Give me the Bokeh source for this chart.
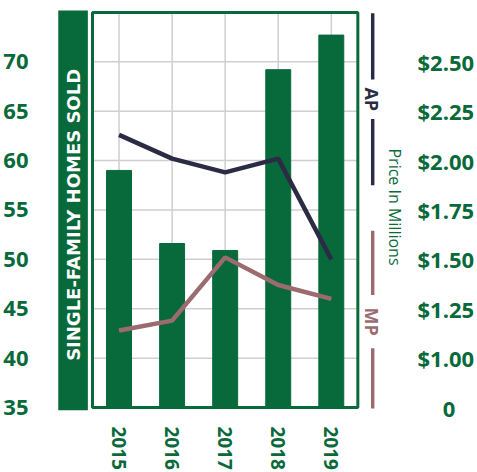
from bokeh.plotting import figure
from bokeh.models import (Range1d, LinearAxis, BoxAnnotation, Label,
                          FixedTicker, NumeralTickFormatter)
from bokeh.embed import file_html
from bokeh.resources import INLINE

# ---- data ----
years = ["2015", "2016", "2017", "2018", "2019"]
homes_sold = [59.0, 51.6, 50.9, 69.2, 72.7]
avg_price = [2.13, 2.01, 1.94, 2.01, 1.50]      # AP, $ millions
median_price = [1.14, 1.19, 1.51, 1.37, 1.30]   # MP, $ millions
left_ticks = [35, 40, 45, 50, 55, 60, 65, 70]
right_ticks = [0.75, 1.0, 1.25, 1.5, 1.75, 2.0, 2.25, 2.5]

GREEN = "#08693a"
NAVY = "#2b2b45"
MAUVE = "#9b6b70"
GRID = "#cfcfcf"
FONT = "Open Sans"

# ---- layout geometry (canvas pixels) ----
W, H = 477, 472
FRAME_L, FRAME_R, FRAME_T, FRAME_B = 40, 408, 2, 415
PX_PER_CAT = 53.8      # horizontal pixels per category
CAT0_PX = 118.6        # centre of first category
BASE_PX = 412          # pixel of value 35
PX_PER_UNIT = 10.0     # pixels per home sold

def X(px):
    return (px - CAT0_PX) / PX_PER_CAT

def Y(py):
    return 35 + (BASE_PX - py) / PX_PER_UNIT

def P(yv):  # homes-axis value -> price-axis value
    return 0.75 + (yv - 35) * 0.05

idx = list(range(len(years)))
x_start, x_end = X(FRAME_L), X(FRAME_R)
y_start, y_end = Y(FRAME_B), Y(FRAME_T)

p = figure(width=W, height=H, x_range=Range1d(x_start, x_end),
           y_range=Range1d(y_start, y_end),
           output_backend="svg", toolbar_location=None,
           min_border_left=FRAME_L, min_border_right=W - FRAME_R,
           min_border_top=FRAME_T, min_border_bottom=H - FRAME_B)
p.extra_y_ranges = {"price": Range1d(P(y_start), P(y_end))}
p.outline_line_color = None
p.xgrid.visible = False
p.ygrid.visible = False
p.background_fill_color = "white"
p.border_fill_color = "white"

# grid lines (inside the green frame)
lo, hi = idx[0] - 0.5, idx[-1] + 0.5
gy = [t for t in left_ticks if t > left_ticks[0]]
p.segment(x0=[lo] * len(gy), x1=[hi] * len(gy), y0=gy, y1=gy,
          line_color=GRID, line_width=1.5)
p.segment(x0=idx, x1=idx, y0=[left_ticks[0]] * len(idx), y1=[75] * len(idx),
          line_color=GRID, line_width=1.5)

# green frame
p.quad(left=[lo], right=[hi], bottom=[left_ticks[0]], top=[75],
       fill_color=None, line_color=GREEN, line_width=3)

# bars
p.vbar(x=idx, top=homes_sold, bottom=left_ticks[0], width=0.47, color=GREEN)

# price lines
p.line(idx, avg_price, y_range_name="price", line_color=NAVY, line_width=4.5)
p.line(idx, median_price, y_range_name="price", line_color=MAUVE, line_width=4.5)

# left axis
ya = p.yaxis[0]
ya.ticker = FixedTicker(ticks=left_ticks)
ya.axis_line_color = None
ya.major_tick_line_color = None
ya.minor_tick_line_color = None
ya.major_label_standoff = 7
ya.major_label_text_color = GREEN
ya.major_label_text_font = FONT
ya.major_label_text_font_style = "bold"
ya.major_label_text_font_size = "22px"

# right axis
ra = LinearAxis(y_range_name="price", ticker=FixedTicker(ticks=right_ticks),
                formatter=NumeralTickFormatter(format="$0.00"),
                major_label_overrides={0.75: "\u2007\u20070"})
ra.axis_line_color = None
ra.major_tick_line_color = None
ra.minor_tick_line_color = None
ra.major_label_standoff = 7
ra.major_label_text_color = GREEN
ra.major_label_text_font = FONT
ra.major_label_text_font_style = "bold"
ra.major_label_text_font_size = "22px"
p.add_layout(ra, "right")

# bottom axis (years)
xa = p.xaxis[0]
xa.ticker = FixedTicker(ticks=idx)
xa.major_label_overrides = {i: y for i, y in zip(idx, years)}
xa.axis_line_color = None
xa.major_tick_line_color = None
xa.minor_tick_line_color = None
xa.major_label_orientation = "vertical"
xa.major_label_standoff = 10
xa.major_label_text_color = GREEN
xa.major_label_text_font = FONT
xa.major_label_text_font_style = "bold"
xa.major_label_text_font_size = "19px"

def vbox(l, r, t, b, color):
    p.add_layout(BoxAnnotation(left=X(l), right=X(r), top=Y(t), bottom=Y(b),
                               fill_color=color, fill_alpha=1, line_color=None))

def vlabel(cx, cy, text, color, size, bold, angle, font=FONT):
    p.add_layout(Label(x=X(cx), y=Y(cy), text=text, angle=angle,
                       text_align="center", text_baseline="middle",
                       text_color=color, text_font=font,
                       text_font_style="bold" if bold else "normal",
                       text_font_size=size))

# left title block
vbox(57, 87, 10, 415, GREEN)
vlabel(72.5, 217, "SINGLE-FAMILY HOMES SOLD", "white", "18px", True, 1.5708,
       font="DejaVu Sans")

# AP / MP legend markers
vbox(374, 377.5, 13, 80, NAVY)
vbox(374, 377.5, 120, 187, NAVY)
vbox(374, 377.5, 233, 298, MAUVE)
vbox(374, 377.5, 352, 413, MAUVE)
vlabel(375.5, 100, "AP", NAVY, "18px", True, -1.5708)
vlabel(375.5, 325, "MP", MAUVE, "18px", True, -1.5708)
vlabel(398, 209, "Price In Millions", GREEN, "16px", False, -1.5708)

open("out.html", "w").write(file_html(p, INLINE))
